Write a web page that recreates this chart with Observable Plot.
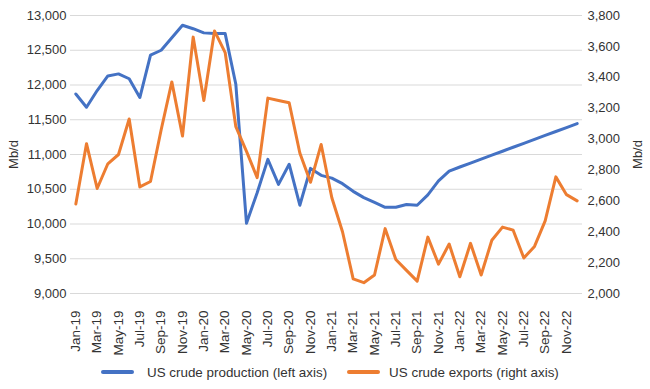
<!DOCTYPE html>
<html><head><meta charset="utf-8">
<script src="https://cdn.jsdelivr.net/npm/d3@7"></script>
<script src="https://cdn.jsdelivr.net/npm/@observablehq/plot@0.6"></script>
<style>
body{margin:0;background:#fff;font-family:"Liberation Sans",Arial,sans-serif;}
#legend{display:flex;align-items:center;height:28px;padding-left:101px;font-size:13.4px;color:#333;white-space:nowrap}
.sw{width:33px;height:4px;border-radius:2px;flex:none}
</style></head><body><div id="chart"></div><div id="legend"></div>
<script>
const months = ["Jan-19","Feb-19","Mar-19","Apr-19","May-19","Jun-19","Jul-19","Aug-19","Sep-19","Oct-19","Nov-19","Dec-19",
"Jan-20","Feb-20","Mar-20","Apr-20","May-20","Jun-20","Jul-20","Aug-20","Sep-20","Oct-20","Nov-20","Dec-20",
"Jan-21","Feb-21","Mar-21","Apr-21","May-21","Jun-21","Jul-21","Aug-21","Sep-21","Oct-21","Nov-21","Dec-21",
"Jan-22","Feb-22","Mar-22","Apr-22","May-22","Jun-22","Jul-22","Aug-22","Sep-22","Oct-22","Nov-22","Dec-22"];
const production = [11870,11680,11920,12130,12160,12090,11820,12430,12500,12680,12860,12810,
12750,12740,12740,12010,10010,10450,10930,10570,10860,10270,10800,10700,
10660,10580,10470,10380,10310,10240,10240,10280,10270,10420,10620,10760,
10820,10877,10934,10990,11047,11104,11161,11218,11275,11331,11388,11445];
const exportsUS = [2580,2970,2680,2840,2900,3130,2690,2725,3060,3370,3020,3660,
3250,3700,3560,3080,2920,2750,3265,3250,3235,2910,2720,2965,
2620,2400,2095,2070,2120,2420,2220,2150,2080,2365,2190,2320,
2108,2325,2120,2345,2430,2410,2230,2305,2470,2755,2640,2600];
const leftTicks = [9000,9500,10000,10500,11000,11500,12000,12500,13000];
const rightTicks = [2000,2200,2400,2600,2800,3000,3200,3400,3600,3800];
const xTickLabels = months.filter((d,i)=>i%2===0);
const seriesNames = ["US crude production (left axis)","US crude exports (right axis)"];
const colors = ["#4472C4","#ED7D31"];
const axisTitle = "Mb/d";

const right = d3.scaleLinear([2000,3800],[9000,13000]);
const data = months.map((m,i)=>({month:m, prod:production[i], exp:right(exportsUS[i])}));
const fmt = d3.format(",");

const chart = Plot.plot({
  width:650, height:358, marginTop:15, marginBottom:65, marginLeft:70, marginRight:68,
  style:{fontFamily:"'Liberation Sans',Arial,sans-serif", fontSize:"13px", color:"#333", background:"#fff"},
  x:{type:"point", domain:months, padding:0.5, axis:null},
  y:{domain:[9000,13000], axis:null},
  marks:[
    Plot.ruleY(leftTicks,{stroke:"#d9d9d9", strokeWidth:1}),
    Plot.axisY(leftTicks,{anchor:"left", tickSize:0, tickPadding:4, tickFormat:fmt, label:null}),
    Plot.axisY(rightTicks.map(right),{anchor:"right", tickSize:0, tickPadding:5, tickFormat:d=>fmt(Math.round(right.invert(d))), label:null}),
    Plot.axisX(xTickLabels,{tickRotate:-90, tickSize:0, tickPadding:17, fontSize:13.5, label:null}),
    Plot.text([axisTitle],{frameAnchor:"left", dx:-57, rotate:-90, textAnchor:"middle"}),
    Plot.text([axisTitle],{frameAnchor:"right", dx:55, rotate:-90, textAnchor:"middle"}),
    Plot.line(data,{x:"month", y:"prod", stroke:colors[0], strokeWidth:3}),
    Plot.line(data,{x:"month", y:"exp", stroke:colors[1], strokeWidth:3})
  ]
});
document.getElementById("chart").appendChild(chart);

const leg = document.getElementById("legend");
const gaps = [13, 9];
seriesNames.forEach((n,i)=>{
  const sw = document.createElement("span");
  sw.className = "sw"; sw.style.background = colors[i];
  sw.style.marginRight = gaps[i]+"px";
  if (i>0) sw.style.marginLeft = "20px";
  const t = document.createElement("span"); t.textContent = n;
  leg.appendChild(sw); leg.appendChild(t);
});
</script></body></html>
